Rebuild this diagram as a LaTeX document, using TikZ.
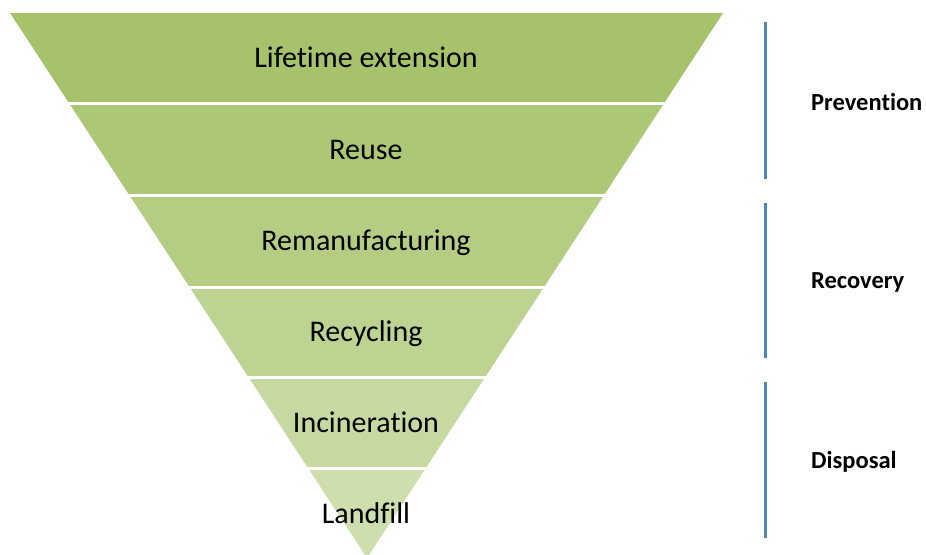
\documentclass[tikz,border=0pt]{standalone}
\usepackage{fontspec}
\setmainfont{Carlito}[Ligatures=CommonOff]
\begin{document}
\begin{tikzpicture}[x=1pt,y=-1pt,
  bandtext/.style={anchor=base,font=\fontsize{30}{36}\selectfont,text=black,inner sep=0pt},
  grouplabel/.style={anchor=base west,font=\bfseries\fontsize{24.5}{29}\selectfont,text=black,inner sep=0pt},
  bracketline/.style={draw=barblue,line width=3pt}]
\definecolor{cA}{RGB}{166,194,106}
\definecolor{cB}{RGB}{172,199,117}
\definecolor{cC}{RGB}{181,205,131}
\definecolor{cD}{RGB}{189,211,145}
\definecolor{cE}{RGB}{198,217,160}
\definecolor{cF}{RGB}{206,223,173}
\definecolor{barblue}{RGB}{79,129,189}
\useasboundingbox (0,0) rectangle (926,554);
\fill[white] (0,0) rectangle (926,554);
\begin{scope}
  \clip (10,13) -- (723,13) -- (367,558) -- cycle;
  \fill[cA] (0,13) rectangle (926,102);
  \fill[cB] (0,105) rectangle (926,194);
  \fill[cC] (0,197) rectangle (926,285.5);
  \fill[cD] (0,288.5) rectangle (926,376);
  \fill[cE] (0,379) rectangle (926,467);
  \fill[cF] (0,470) rectangle (926,560);
\end{scope}
\node[bandtext] (t1) at (366,67) {Lifetime extension};
\node[bandtext] (t2) at (366,159) {Reuse};
\node[bandtext] (t3) at (366,250) {Remanufacturing};
\node[bandtext] (t4) at (366,341) {Recycling};
\node[bandtext] (t5) at (366,432) {Incineration};
\node[bandtext] (t6) at (366,523) {Landfill};
\coordinate (p1) at (765,22);
\coordinate (p2) at (765,179);
\coordinate (r1) at (765,203);
\coordinate (r2) at (765,358);
\coordinate (d1) at (765,382);
\coordinate (d2) at (765,538);
\draw[bracketline] (p1) -- (p2);
\draw[bracketline] (r1) -- (r2);
\draw[bracketline] (d1) -- (d2);
\node[grouplabel] (lp) at (811,110) {Prevention};
\node[grouplabel] (lr) at (811,288) {Recovery};
\node[grouplabel] (ld) at (811,468) {Disposal};
\end{tikzpicture}
\end{document}
